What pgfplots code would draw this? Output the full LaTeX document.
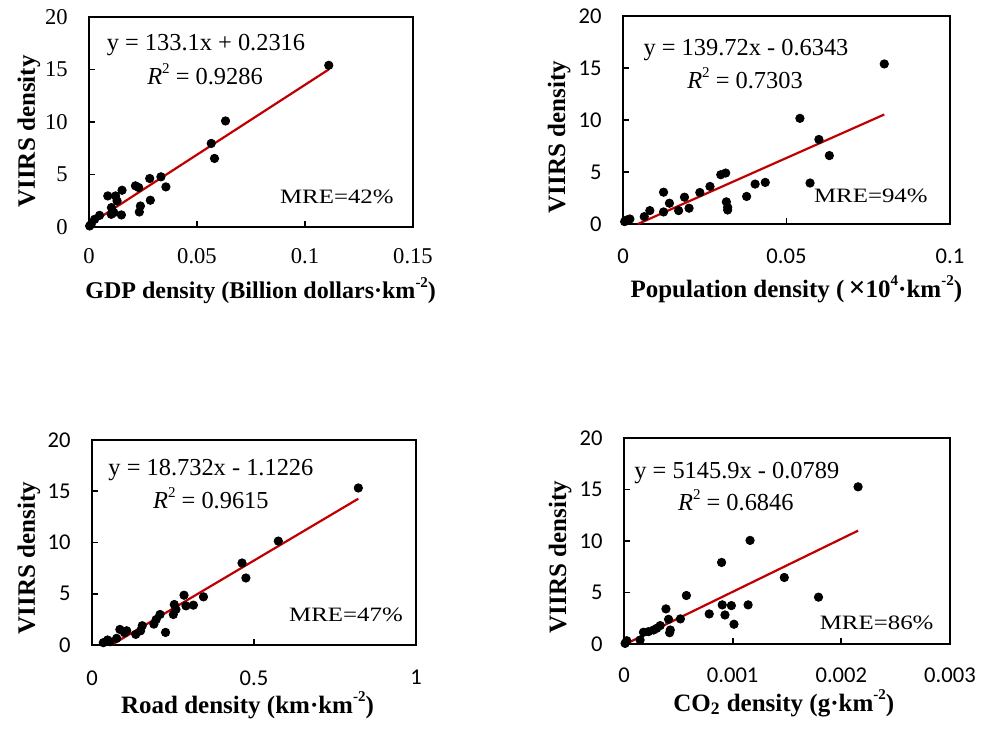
\documentclass[border=0pt]{standalone}
\usepackage{pgfplots}
\pgfplotsset{compat=1.18}
\usepackage{fontspec}
\setmainfont{Liberation Serif}
\newfontfamily\calibri{Carlito}
\definecolor{trend}{HTML}{C00000}
\pgfplotsset{
  base/.style={
    scale only axis, anchor=south west, clip=false,
    axis line style={line width=1pt}, 
    tick align=inside, xtick pos=left, ytick pos=left,
    major tick length=3.2pt, every tick/.style={black,line width=0.9pt},
    ymin=0, ymax=20, ytick={0,5,10,15,20},
    scaled ticks=false,
    /pgf/number format/assume math mode=true,
    yticklabel style={inner sep=0pt, anchor=east, xshift=-10.5pt},
    xticklabel style={inner sep=0pt, anchor=north},
    xlabel style={font=\bfseries\fontsize{12.5}{15}\selectfont, anchor=base, inner sep=0pt},
    ylabel style={font=\bfseries\fontsize{12.5}{15}\selectfont, anchor=base, inner sep=0pt},
    ylabel={VIIRS density},
  },
  sansticks/.style={ticklabel style={font=\calibri\fontsize{11.3}{13}\selectfont}},
  serifticks/.style={ticklabel style={font=\fontsize{11.3}{13}\selectfont}},
  pts/.style={only marks, mark=*, mark size=2.1pt, black},
  fit/.style={color=trend, line width=1.1pt, no marks},
}
\newcommand{\eqfont}{\fontsize{12.2}{14}\selectfont}
\newcommand{\mrefont}{\fontsize{10.2}{12}\selectfont}
\newcommand{\supx}[1]{\raisebox{0.45em}{\fontsize{7.5}{8}\selectfont #1}}
\begin{document}
\begin{tikzpicture}
\path[use as bounding box] (0,0) rectangle (494pt,-367pt);
% Panel 1
\begin{axis}[base, serifticks, at={(44.5pt,-113.5pt)}, width=162pt, height=105pt,
  xmin=0, xmax=0.15, xtick={0,0.05,0.1,0.15}, xticklabels={0,0.05,0.1,0.15},
  xticklabel style={yshift=-10.5pt},
  xlabel={GDP density (Billion dollars·km\supx{-2})},
  xlabel style={at={([yshift=-35.5pt]axis description cs:0.53,0)}, font=\bfseries\fontsize{12}{15}\selectfont},
  ylabel style={at={([xshift=-27pt]axis description cs:0,0.455)}}]
\addplot[pts] coordinates {
(0.111,15.4) (0.0632,10.1) (0.0566,7.96) (0.0581,6.53) (0.0333,4.78) (0.0281,4.62)
(0.0356,3.82) (0.0215,3.92) (0.0230,3.76) (0.0153,3.5) (0.0087,2.96) (0.0123,2.96)
(0.0130,2.48) (0.0104,1.85) (0.0284,2.55) (0.0238,2.0) (0.0233,1.43) (0.0150,1.15)
(0.0103,1.21) (0.0115,1.37) (0.0049,1.11) (0.0026,0.73) (0.0003,0.1) (0.001,0.25)
};
\addplot[fit] coordinates {(0,0.2316) (0.111,15.006)};
\node[font=\eqfont] at (rel axis cs:0.361,0.867) {y = 133.1x + 0.2316};
\node[font=\eqfont] at (rel axis cs:0.358,0.729) {\textit{R}\supx{2} = 0.9286};
\node[font=\mrefont, xscale=1.22, transform shape] at (rel axis cs:0.765,0.143) {MRE=42\%};
\end{axis}
% Panel 2
\begin{axis}[base, sansticks, at={(311.5pt,-112pt)}, width=163.5pt, height=104pt,
  xmin=0, xmax=0.1, xtick={0,0.05,0.1}, xticklabels={0,0.05,0.1},
  xticklabel style={yshift=-12pt},
  xlabel={Population density (\,{\fontsize{15}{15}\selectfont ×}10\supx{4}·km\supx{-2})},
  xlabel style={at={([yshift=-36.5pt]axis description cs:0.53,0)}},
  ylabel style={at={([xshift=-29pt]axis description cs:0,0.418)}}]
\addplot[pts] coordinates {
(0.0799,15.39) (0.0541,10.16) (0.0599,8.13) (0.0631,6.58) (0.0572,3.94) (0.0435,4.0)
(0.0404,3.84) (0.0378,2.65) (0.0314,4.9) (0.0299,4.74) (0.0266,3.61) (0.0235,3.03)
(0.0188,2.58) (0.0124,3.06) (0.0142,2.0) (0.0124,1.16) (0.0170,1.29) (0.0202,1.52)
(0.0316,2.13) (0.032,1.61) (0.032,1.35) (0.0082,1.29) (0.0065,0.71) (0.0021,0.48)
(0.0012,0.39) (0.0005,0.23)
};
\addplot[fit] coordinates {(0.00454,0) (0.0799,10.53)};
\node[font=\eqfont] at (rel axis cs:0.376,0.837) {y = 139.72x - 0.6343};
\node[font=\eqfont] at (rel axis cs:0.373,0.702) {\textit{R}\supx{2} = 0.7303};
\node[font=\mrefont, xscale=1.22, transform shape] at (rel axis cs:0.758,0.135) {MRE=94\%};
\end{axis}
% Panel 3
\begin{axis}[base, sansticks, at={(46pt,-322.5pt)}, width=162pt, height=102.5pt,
  xmin=0, xmax=1, xtick={0,0.5,1}, xticklabels={0,0.5,1},
  xticklabel style={yshift=-12.5pt},
  xlabel={Road density (km·km\supx{-2})},
  xlabel style={at={([yshift=-34pt]axis description cs:0.48,0)}},
  ylabel style={at={([xshift=-28.5pt]axis description cs:0,0.424)}}]
\addplot[pts] coordinates {
(0.822,15.32) (0.575,10.14) (0.463,8.0) (0.475,6.54) (0.344,4.70) (0.284,4.86)
(0.290,3.82) (0.313,3.89) (0.254,3.95) (0.251,2.98) (0.259,3.47) (0.210,2.98)
(0.198,2.49) (0.191,2.04) (0.155,1.88) (0.150,1.39) (0.135,1.04) (0.227,1.23)
(0.107,1.39) (0.086,1.52) (0.100,1.2) (0.076,0.65) (0.048,0.49) (0.035,0.23) (0.056,0.32)
};
\addplot[fit] coordinates {(0.06,0.0013) (0.822,14.275)};
\node[font=\eqfont] at (rel axis cs:0.367,0.854) {y = 18.732x - 1.1226};
\node[font=\eqfont] at (rel axis cs:0.367,0.717) {\textit{R}\supx{2} = 0.9615};
\node[font=\mrefont, xscale=1.22, transform shape] at (rel axis cs:0.784,0.146) {MRE=47\%};
\end{axis}
% Panel 4
\begin{axis}[base, sansticks, at={(312pt,-322pt)}, width=163pt, height=103pt,
  xmin=0, xmax=0.003, xtick={0,0.001,0.002,0.003}, xticklabels={0,0.001,0.002,0.003},
  xticklabel style={yshift=-11.5pt},
  xlabel={CO\textsubscript{2} density (g·km\supx{-2})},
  xlabel style={at={([yshift=-33.5pt]axis description cs:0.49,0)}},
  ylabel style={at={([xshift=-29pt]axis description cs:0,0.422)}}]
\addplot[pts] coordinates {
(0.002154,15.26) (0.001160,10.06) (0.000898,7.92) (0.001475,6.46) (0.001790,4.55)
(0.000574,4.71) (0.000386,3.41) (0.000904,3.80) (0.000988,3.73) (0.001142,3.80)
(0.000784,2.92) (0.000929,2.82) (0.001012,1.92) (0.000519,2.44) (0.000410,2.40)
(0.000333,1.79) (0.000302,1.53) (0.000272,1.36) (0.000225,1.2) (0.000179,1.14)
(0.000426,1.36) (0.000420,1.1) (0.000148,0.39) (0.000025,0.32) (0.00001,0.06)
};
\addplot[fit] coordinates {(0.0000153,0) (0.002154,11.006)};
\node[font=\eqfont] at (rel axis cs:0.346,0.830) {y = 5145.9x - 0.0789};
\node[font=\eqfont] at (rel axis cs:0.343,0.699) {\textit{R}\supx{2} = 0.6846};
\node[font=\mrefont, xscale=1.22, transform shape] at (rel axis cs:0.775,0.102) {MRE=86\%};
\end{axis}
\end{tikzpicture}
\end{document}
